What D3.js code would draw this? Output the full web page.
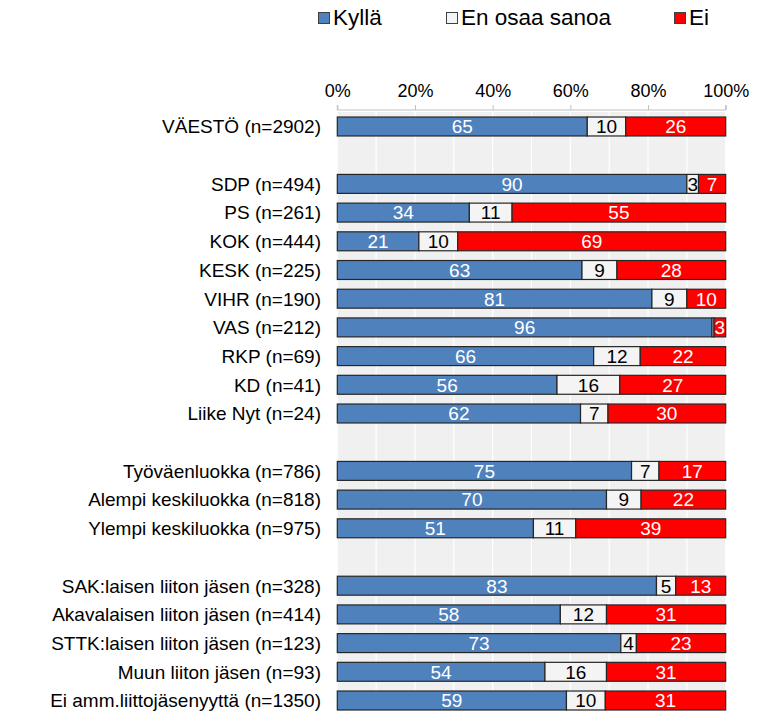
<!DOCTYPE html>
<html><head><meta charset="utf-8">
<script src="https://cdn.jsdelivr.net/npm/d3@7"></script>
<style>body{margin:0;background:#fff;}svg{display:block;font-family:"Liberation Sans",Arial,sans-serif;}</style>
</head><body>
<svg id="c" width="774" height="711"></svg>
<script>
const categories = ["VÄESTÖ (n=2902)", "", "SDP (n=494)", "PS (n=261)", "KOK (n=444)", "KESK (n=225)", "VIHR (n=190)", "VAS (n=212)", "RKP (n=69)", "KD (n=41)", "Liike Nyt (n=24)", " ", "Työväenluokka (n=786)", "Alempi keskiluokka (n=818)", "Ylempi keskiluokka (n=975)", "  ", "SAK:laisen liiton jäsen (n=328)", "Akavalaisen liiton jäsen (n=414)", "STTK:laisen liiton jäsen (n=123)", "Muun liiton jäsen (n=93)", "Ei amm.liittojäsenyyttä (n=1350)"];
const kylla = [65, null, 90, 34, 21, 63, 81, 96, 66, 56, 62, null, 75, 70, 51, null, 83, 58, 73, 54, 59];
const eos   = [10, null, 3, 11, 10, 9, 9, 0.5, 12, 16, 7, null, 7, 9, 11, null, 5, 12, 4, 16, 10];
const ei    = [26, null, 7, 55, 69, 28, 10, 3, 22, 27, 30, null, 17, 22, 39, null, 13, 31, 23, 31, 31];
const seriesNames = ["Kyllä", "En osaa sanoa", "Ei"];
const seriesColors = ["#4f81bd", "#f4f4f4", "#ff0000"];
const labelColors = ["#ffffff", "#000000", "#ffffff"];
const tickValues = [0, 0.2, 0.4, 0.6, 0.8, 1.0];

const svg = d3.select("#c");
const x = d3.scaleLinear().domain([0, 1]).range([337.3, 725.7]);
const y = d3.scaleBand().domain(categories).range([112.15, 714.85]).paddingInner(0.34).paddingOuter(0.17);

// plot background
svg.append("rect").attr("x", x(0)).attr("y", 112).attr("width", x(1) - x(0)).attr("height", 711 - 112).attr("fill", "#f0f0f0");
// gridlines
svg.append("g").selectAll("line").data(d3.range(0, 1.0001, 0.1)).join("line")
  .attr("x1", d => x(d)).attr("x2", d => x(d)).attr("y1", 112).attr("y2", 711)
  .attr("stroke", "#ffffff").attr("stroke-width", 1.2);

// top axis
const axis = d3.axisTop(x).tickValues(tickValues).tickFormat(d3.format(".0%")).tickSize(5).tickPadding(8);
const ag = svg.append("g").attr("transform", "translate(0,110)").call(axis);
ag.select(".domain").attr("stroke", "#bfbfbf").attr("d", `M${x(0)},105V110H${x(1)}V105`).attr("transform","translate(0,-110)");
ag.selectAll(".tick line").attr("stroke", "#bfbfbf");
ag.selectAll(".tick text").attr("font-size", 18).attr("fill", "#000").attr("font-family", "Liberation Sans, Arial, sans-serif");

// stacked bars
const rows = categories.map((c, i) => ({ c, vals: [kylla[i], eos[i], ei[i]] })).filter(r => r.vals[0] !== null);
rows.forEach(r => {
  const total = d3.sum(r.vals);
  let acc = 0;
  r.segs = r.vals.map((v, k) => { const s = { k, v, x0: acc / total, x1: (acc + v) / total }; acc += v; return s; });
});
const gRows = svg.append("g").selectAll("g").data(rows).join("g");
gRows.selectAll("rect").data(r => r.segs.map(s => ({ ...s, c: r.c }))).join("rect")
  .attr("x", d => x(d.x0)).attr("width", d => x(d.x1) - x(d.x0))
  .attr("y", d => y(d.c)).attr("height", y.bandwidth())
  .attr("fill", d => seriesColors[d.k]).attr("stroke", "#262626").attr("stroke-width", 1.2);
gRows.selectAll("text").data(r => r.segs.filter(s => s.v >= 1).map(s => ({ ...s, c: r.c }))).join("text")
  .attr("x", d => (x(d.x0) + x(d.x1)) / 2).attr("y", d => y(d.c) + y.bandwidth() / 2)
  .attr("dy", "0.36em").attr("text-anchor", "middle").attr("font-size", 19)
  .attr("fill", d => labelColors[d.k]).text(d => d.v);

// category labels
svg.append("g").selectAll("text").data(rows).join("text")
  .attr("x", 321).attr("y", d => y(d.c) + y.bandwidth() / 2).attr("dy", "0.36em")
  .attr("text-anchor", "end").attr("font-size", 19).attr("fill", "#000").text(d => d.c);

// legend
const legX = [318, 446, 674];
const lg = svg.append("g").selectAll("g").data(seriesNames).join("g")
  .attr("transform", (d, i) => `translate(${legX[i]},0)`);
lg.append("rect").attr("x", 0.5).attr("y", 12.5).attr("width", 11).attr("height", 11)
  .attr("fill", (d, i) => seriesColors[i]).attr("stroke", "#404040").attr("stroke-width", 1);
lg.append("text").attr("x", 15).attr("y", 25).attr("font-size", 22.5).attr("fill", "#000").text(d => d);
</script>
</body></html>
